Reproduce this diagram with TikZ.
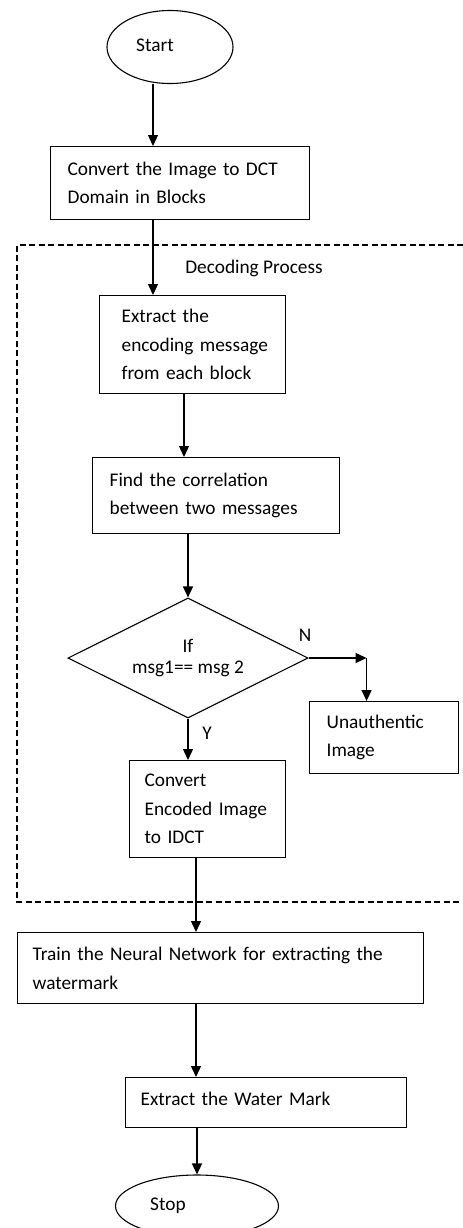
\documentclass[tikz,border=0pt]{standalone}
\usepackage{fontspec}
\setmainfont{Carlito}
\usetikzlibrary{arrows.meta,shapes.geometric,calc}
\begin{document}
\hyphenpenalty=10000
\exhyphenpenalty=10000
\begin{tikzpicture}[x=1bp,y=-1bp,
  every node/.style={font=\fontsize{19.4}{28.5}\selectfont},
  procbox/.style={draw, line width=1.3bp, anchor=north west, align=left, inner ysep=0pt},
  term/.style={draw, ellipse, line width=1.1bp, inner sep=0pt},
  decision/.style={draw, diamond, aspect=2, line width=1.1bp, inner sep=0pt, align=center, font=\fontsize{19.4}{22}\selectfont},
  arr/.style={line width=1.3bp, -{Triangle[length=11bp,width=10bp]}},
  region/.style={line width=1.1bp, dash pattern=on 6bp off 3.5bp},
  lbl/.style={inner sep=0pt}
]
\useasboundingbox (0,0) rectangle (463,1228);

% dashed decoding region (open on the right)
\draw[region] (463,245) -- (17,245) -- (17,902) -- (463,902);
\node[lbl] (dlabel) at (254,268) {Decoding~Process};

\node[term, minimum width=126bp, minimum height=73bp] (start) at (170,47) {\raisebox{4bp}{Start}\hspace*{30bp}};

\node[procbox, minimum width=259bp, minimum height=73bp, inner xsep=17bp, text width=225bp] (b1) at (50,146)
  {Convert~the~Image~to~DCT\\Domain~in~Blocks};

\node[procbox, minimum width=186bp, minimum height=98bp, inner xsep=22bp, text width=142bp] (b2) at (99,295)
  {Extract~the\\encoding~message\\from~each~block};

\node[procbox, minimum width=247bp, minimum height=76bp, inner xsep=17bp, text width=213bp] (b3) at (92,457)
  {Find~the~correlation\\between~two~messages};

\node[decision, minimum width=240bp, minimum height=120bp] (dia) at (188,658) {If\\msg1==~msg~2};

\node[procbox, minimum width=149bp, minimum height=72bp, inner xsep=17bp, text width=115bp] (b4) at (309,701)
  {Unauthentic\\Image};

\node[procbox, minimum width=156bp, minimum height=97bp, inner xsep=15bp, text width=126bp] (b5) at (129,760)
  {Convert\\Encoded~Image\\to~IDCT};

\node[procbox, minimum width=406bp, minimum height=71bp, inner xsep=15bp, text width=376bp] (b6) at (17,932)
  {Train~the~Neural~Network~for~extracting~the\\watermark};

\node[procbox, minimum width=281bp, minimum height=50bp, inner xsep=15bp, text width=251bp] (b7) at (125,1077)
  {\raisebox{7bp}{Extract~the~Water~Mark}};

\node[term, minimum width=163bp, minimum height=62bp] (stop) at (197,1206) {Stop\hspace*{58bp}};

\node[lbl] (nlab) at (305,635) {N};
\node[lbl] (ylab) at (207,733) {Y};

\coordinate (c1) at (153,0);
\coordinate (c2) at (184,0);
\coordinate (c3) at (196,0);
\coordinate (nc) at ($(dia.east)+(58,0)$);

\draw[arr] (start.south -| c1) -- (b1.north -| c1);
\draw[arr] (b1.south -| c1) -- (b2.north -| c1);
\draw[arr] (b2.south -| c2) -- (b3.north -| c2);
\draw[arr] (b3.south -| dia.north) -- (dia.north);
\draw[arr] (dia.east) -- (nc);
\draw[arr] (nc) -- (nc |- b4.north);
\draw[arr] (dia.south) -- (dia.south |- b5.north);
\draw[arr] (b5.south -| c3) -- (b6.north -| c3);
\draw[arr] (b6.south -| c3) -- (b7.north -| c3);
\draw[arr] (b7.south -| stop.north) -- (stop.north);
\end{tikzpicture}
\end{document}
